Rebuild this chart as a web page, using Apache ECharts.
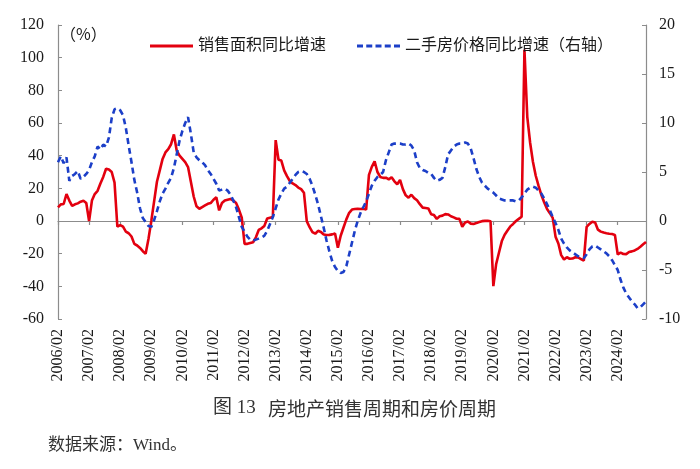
<!DOCTYPE html>
<html><head><meta charset="utf-8">
<script src="https://cdn.jsdelivr.net/npm/echarts@6.0.0/dist/echarts.min.js"></script>
<style>html,body{margin:0;padding:0;background:#fff}#c{width:700px;height:469px}</style>
</head><body><div id="c"></div>
<script>
// Years shown on the axis; each year has points for months 02..12 (Jan is merged into Feb)
const years = [2006,2007,2008,2009,2010,2011,2012,2013,2014,2015,2016,2017,2018,2019,2020,2021,2022,2023,2024];
const months = ['02','03','04','05','06','07','08','09','10','11','12'];

// 销售面积同比增速 (%), left axis, Feb..Dec of each year
const sales2006_2012 = [
  8.4, 10.2, 10.4, 16.5, 12.5, 9.2, 10.2, 10.8, 11.8, 12.4, 11.0,
  0, 12.5, 16.5, 18.5, 23, 27, 32, 31.5, 30, 23.5, -3.5,
  -2.5, -3.5, -6.5, -7.5, -9.5, -14, -15, -16.5, -18.5, -20, -11,
  0, 12, 24, 31, 38, 42, 44, 47, 53, 43, 40,
  38, 36, 33, 24, 15, 9, 7.5, 8.5, 9.5, 10.5, 11,
  13, 14.5, 6.5, 11, 12.5, 13, 13.5, 12.5, 11, 7, 2,
  -14, -14, -13.5, -13, -10, -5.5, -4.5, -3, 1.5, 2, 2.5
];
const sales2013_2018 = [
  49.5, 37.5, 37, 31, 27.5, 24.5, 23, 22, 20.5, 19.5, 17.3,
  -0.1, -3.8, -6.8, -7.8, -6.0, -6.7, -8.3, -8.6, -8.5, -8.2, -7.6,
  -16.3, -9, -4, 1, 5, 7, 7.3, 7.5, 7.3, 7.5, 7,
  28.2, 33.1, 36.5, 30, 27, 26.4, 26.5, 25.5, 26.8, 24.3, 22.5,
  25.1, 19.5, 15.7, 14.3, 16.1, 14.0, 12.7, 10.3, 8.2, 8.0, 7.7,
  4.1, 3.6, 1.3, 2.9, 3.3, 4.2, 4.0, 2.9, 2.2, 1.4, 1.3
];
const sales2019_2024 = [
  -3.6, -0.9, -0.3, -1.6, -1.8, -1.3, -0.6, -0.1, 0.1, 0.2, -0.1,
  -39.9, -26.3, -19.3, -12.3, -8.4, -5.8, -3.3, -1.8, 0.0, 1.3, 2.6,
  104.9, 63.8, 48.1, 36.3, 27.7, 21.5, 15.9, 11.3, 7.3, 4.8, 1.9,
  -9.6, -13.8, -20.9, -23.6, -22.2, -23.1, -23.0, -22.2, -22.3, -23.3, -24.3,
  -3.6, -1.8, -0.4, -0.9, -5.3, -6.5, -7.1, -7.5, -7.8, -8.0, -8.5,
  -20.5, -19.4, -20.2, -20.3, -19.0, -18.6, -18.0, -17.1, -15.8, -14.3, -12.9
];

// 二手房价格同比增速 (%), right axis, Feb..Dec of each year
const price2006_2012 = [
  6.0, 6.6, 5.9, 6.5, 4.1, 4.6, 4.8, 5.1, 4.3, 4.5, 4.8,
  5.2, 6.0, 6.6, 7.6, 7.3, 7.8, 7.6, 8.5, 10.5, 11.4, 11.5,
  11.3, 10.8, 9.5, 7.7, 6.0, 4.2, 2.9, 1.3, 0.3, -0.1, -0.5,
  -0.6, 0.1, 1.0, 2.0, 2.8, 3.3, 3.9, 4.4, 5.4, 6.8, 8.2,
  9.2, 10.0, 10.6, 8.9, 7.0, 6.5, 6.2, 6.0, 5.7, 5.2, 4.8,
  4.3, 3.8, 3.1, 3.2, 3.3, 3.1, 2.7, 2.1, 1.4, 0.4, -0.6,
  -1.1, -1.6, -1.9, -2.0, -1.9, -1.8, -1.7, -1.5, -1.0, -0.3, 0.4
];
const price2013_2018 = [
  1.3, 2.2, 2.8, 3.3, 3.5, 3.9, 4.3, 4.7, 5.0, 5.1, 5.0,
  4.8, 4.3, 3.6, 2.7, 1.7, 0.5, -0.7, -2.0, -3.1, -4.1, -4.7,
  -5.1, -5.3, -5.2, -4.6, -3.4, -2.2, -1.0, 0.0, 0.8, 1.4, 2.0,
  2.8, 3.6, 4.1, 4.5, 4.7, 5.0, 6.2, 7.0, 7.8, 7.9, 7.9,
  7.9, 7.8, 7.8, 7.9, 7.7, 7.2, 6.0, 5.4, 5.2, 5.1, 4.9,
  4.8, 4.4, 4.1, 4.2, 4.4, 5.5, 6.8, 7.2, 7.6, 7.8, 7.9
];
const price2019_2024 = [
  7.9, 8.0, 7.9, 7.4, 6.4, 5.3, 4.5, 3.9, 3.6, 3.3, 3.1,
  2.9, 2.6, 2.3, 2.2, 2.1, 2.1, 2.1, 2.1, 2.0, 2.1, 2.4,
  2.8, 3.2, 3.4, 3.5, 3.4, 3.1, 2.8, 2.3, 1.7, 1.1, 0.4,
  -0.2, -0.9, -1.8, -2.3, -2.7, -3.0, -3.2, -3.4, -3.6, -3.7, -3.8,
  -3.4, -2.9, -2.6, -2.5, -2.7, -2.9, -3.1, -3.3, -3.6, -4.0, -4.5,
  -5.0, -6.0, -6.8, -7.4, -7.8, -8.2, -8.5, -8.9, -8.8, -8.5, -8.2
];

const salesGrowth = sales2006_2012.concat(sales2013_2018, sales2019_2024);
const priceGrowth = price2006_2012.concat(price2013_2018, price2019_2024);

const categories = [];
years.forEach(y => months.forEach(m => categories.push(y + '/' + m)));
const perYear = months.length;
const yearStart = (i) => i % perYear === 0;

const SERIF = "'Liberation Serif','Noto Sans CJK SC',serif";
const TXT = '#1a1a1a';
const AX = '#8c8c8c';
const RED = '#E3000F';
const BLUE = '#1C3FC8';

const chart = echarts.init(document.getElementById('c'), null, {renderer: 'canvas'});
chart.setOption({
  animation: false,
  backgroundColor: '#fff',
  grid: {left: 58, right: 54, top: 25, bottom: 150, containLabel: false},
  legend: {
    left: 145, top: 33, itemWidth: 43, itemHeight: 3, itemGap: 31,
    textStyle: {fontFamily: SERIF, fontSize: 16, color: TXT},
    data: [
      {name: '销售面积同比增速', icon: 'path://M0,0h43v3h-43z', itemStyle: {color: RED}},
      {name: '二手房价格同比增速（右轴）', icon: 'path://M0,0h6v3h-6z M9.25,0h6v3h-6z M18.5,0h6v3h-6z M27.75,0h6v3h-6z M37,0h6v3h-6z', itemStyle: {color: BLUE}}
    ]
  },
  xAxis: [
    {
      type: 'category', data: categories, boundaryGap: false, position: 'bottom',
      axisLine: {show: false, onZero: false}, axisTick: {show: false},
      axisLabel: {interval: (i) => yearStart(i), rotate: 90, margin: 10,
        fontFamily: SERIF, fontSize: 16, color: TXT}
    },
    {
      type: 'category', data: categories, boundaryGap: false, position: 'bottom',
      axisLine: {show: true, onZero: true, onZeroAxisIndex: 0, lineStyle: {color: AX, width: 1.2}},
      axisTick: {show: true, interval: (i) => yearStart(i), length: 4, lineStyle: {color: AX, width: 1.2}},
      axisLabel: {show: false}
    }
  ],
  yAxis: [
    {
      type: 'value', min: -60, max: 120, interval: 20, position: 'left',
      splitLine: {show: false},
      axisLine: {show: true, lineStyle: {color: AX, width: 1.2}},
      axisTick: {show: true, inside: true, length: 4, lineStyle: {color: AX}},
      axisLabel: {margin: 14, fontFamily: SERIF, fontSize: 16, color: TXT}
    },
    {
      type: 'value', min: -10, max: 20, interval: 5, position: 'right',
      splitLine: {show: false},
      axisLine: {show: true, lineStyle: {color: AX, width: 1.2}},
      axisTick: {show: true, inside: true, length: 4, lineStyle: {color: AX}},
      axisLabel: {margin: 13, fontFamily: SERIF, fontSize: 16, color: TXT}
    }
  ],
  series: [
    {
      name: '销售面积同比增速', type: 'line', xAxisIndex: 0, yAxisIndex: 0,
      data: salesGrowth, symbol: 'none', smooth: false,
      lineStyle: {color: RED, width: 2.6}, itemStyle: {color: RED}
    },
    {
      name: '二手房价格同比增速（右轴）', type: 'line', xAxisIndex: 0, yAxisIndex: 1,
      data: priceGrowth, symbol: 'none', smooth: false,
      lineStyle: {color: BLUE, width: 2.6, type: [6, 4]}, itemStyle: {color: BLUE}
    }
  ],
  graphic: [
    {type: 'text', left: 60, top: 26, style: {text: '（%）', font: "16px 'Noto Sans CJK SC', sans-serif", fill: TXT}},
    {type: 'text', left: 213, top: 399, style: {text: '图 13', font: "19px 'Liberation Serif','Noto Sans CJK SC'", fill: '#333'}},
    {type: 'text', left: 268, top: 399, style: {text: '房地产销售周期和房价周期', font: "19px 'Noto Sans CJK SC'", fill: '#333'}},
    {type: 'text', left: 48, top: 437, style: {text: '数据来源：Wind。', font: "17px 'Liberation Serif','Noto Sans CJK SC'", fill: '#333'}}
  ]
});
</script>
</body></html>
